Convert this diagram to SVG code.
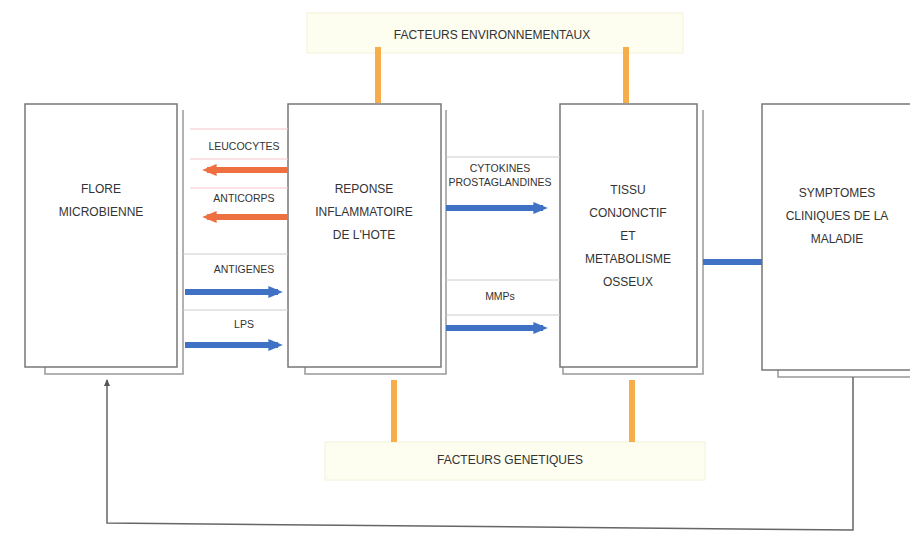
<svg xmlns="http://www.w3.org/2000/svg" width="910" height="538" viewBox="0 0 910 538">
<defs>
<style>
.box{fill:#fff;stroke:#777;stroke-width:1.5}
.sh{fill:none;stroke:#999;stroke-width:1.5}
.band{fill:#fdfdf0;stroke:#f2f2d8;stroke-width:1}
.t{font-family:"Liberation Sans",Arial,sans-serif;font-size:12px;fill:#333;text-anchor:middle}
.ts{font-family:"Liberation Sans",Arial,sans-serif;font-size:10.5px;fill:#333;text-anchor:middle}
.or{stroke:#f6ad4a;stroke-width:6}
.red{stroke:#ee7040;stroke-width:6}
.blue{stroke:#3f72c4;stroke-width:6}
.sep{stroke:#ccc;stroke-width:1}
.pk{stroke:#f3c6cc;stroke-width:1}
</style>
<marker id="ab" markerWidth="2.4" markerHeight="2" refX="1.6" refY="1" orient="auto" markerUnits="strokeWidth"><path d="M0,0 L2.4,1 L0,2 z" fill="#3f72c4"/></marker>
<marker id="ar" markerWidth="2.4" markerHeight="2" refX="1.6" refY="1" orient="auto" markerUnits="strokeWidth"><path d="M0,0 L2.4,1 L0,2 z" fill="#ee7040"/></marker>
<marker id="ag" markerWidth="8" markerHeight="8" refX="6" refY="4" orient="auto" markerUnits="userSpaceOnUse"><path d="M0,1 L7,4 L0,7 z" fill="#555"/></marker>
</defs>
<rect width="910" height="538" fill="#fff"/>

<g id="env">
<rect class="band" x="307" y="13" width="376" height="40"/>
<text class="t" x="492" y="39">FACTEURS ENVIRONNEMENTAUX</text>
</g>
<g id="gen">
<rect class="band" x="325" y="442" width="380" height="38"/>
<text class="t" x="510" y="464">FACTEURS GENETIQUES</text>
</g>

<g id="flore">
<path class="sh" d="M45,367 V374 H183 V110"/>
<rect class="box" x="25" y="104" width="152" height="263"/>
<text class="t" x="101" y="193">FLORE</text>
<text class="t" x="101" y="216">MICROBIENNE</text>
</g>
<g id="reponse">
<path class="sh" d="M305,367 V374 H446 V110"/>
<rect class="box" x="288" y="104" width="153" height="263"/>
<text class="t" x="364" y="193">REPONSE</text>
<text class="t" x="364" y="216">INFLAMMATOIRE</text>
<text class="t" x="364" y="239">DE L'HOTE</text>
</g>
<g id="tissu">
<path class="sh" d="M563,367 V374 H703 V110"/>
<rect class="box" x="560" y="104" width="137" height="263"/>
<text class="t" x="628" y="194">TISSU</text>
<text class="t" x="628" y="217">CONJONCTIF</text>
<text class="t" x="628" y="240">ET</text>
<text class="t" x="628" y="263">METABOLISME</text>
<text class="t" x="628" y="286">OSSEUX</text>
</g>
<g id="symptomes">
<path class="sh" d="M778,370 V377 H910"/>
<rect class="box" x="762" y="104" width="160" height="266"/>
<text class="t" x="837" y="197">SYMPTOMES</text>
<text class="t" x="837" y="220">CLINIQUES DE LA</text>
<text class="t" x="837" y="243">MALADIE</text>
</g>

<g id="connectors">
<line class="or" x1="378" y1="47" x2="378" y2="103"/>
<line class="or" x1="626" y1="47" x2="626" y2="103"/>
<line class="or" x1="394" y1="442" x2="394" y2="380"/>
<line class="or" x1="632" y1="442" x2="632" y2="380"/>

<line class="pk" x1="190" y1="129" x2="288" y2="129"/>
<text class="ts" x="244" y="150">LEUCOCYTES</text>
<line class="pk" x1="190" y1="159" x2="288" y2="159"/>
<line class="red" x1="288" y1="170" x2="207" y2="170" marker-end="url(#ar)"/>
<line class="pk" x1="190" y1="188" x2="288" y2="188"/>
<text class="ts" x="244" y="202">ANTICORPS</text>
<line class="red" x1="288" y1="217" x2="207" y2="217" marker-end="url(#ar)"/>

<line class="sep" x1="183" y1="254" x2="288" y2="254"/>
<text class="ts" x="244" y="273">ANTIGENES</text>
<line class="blue" x1="185" y1="292" x2="278" y2="292" marker-end="url(#ab)"/>
<line class="sep" x1="183" y1="310" x2="288" y2="310"/>
<text class="ts" x="244" y="328">LPS</text>
<line class="blue" x1="185" y1="345" x2="278" y2="345" marker-end="url(#ab)"/>

<line class="sep" x1="446" y1="157" x2="560" y2="157"/>
<text class="ts" x="500" y="172">CYTOKINES</text>
<text class="ts" x="500" y="186">PROSTAGLANDINES</text>
<line class="blue" x1="446" y1="208" x2="543" y2="208" marker-end="url(#ab)"/>
<line class="sep" x1="446" y1="280" x2="560" y2="280"/>
<text class="ts" x="500" y="300">MMPs</text>
<line class="sep" x1="446" y1="315" x2="560" y2="315"/>
<line class="blue" x1="446" y1="328" x2="543" y2="328" marker-end="url(#ab)"/>

<line class="blue" x1="703" y1="262" x2="762" y2="262"/>

<path d="M853,377 V530 L107,523 V380" fill="none" stroke="#666" stroke-width="1.5" marker-end="url(#ag)"/>
</g>
</svg>
